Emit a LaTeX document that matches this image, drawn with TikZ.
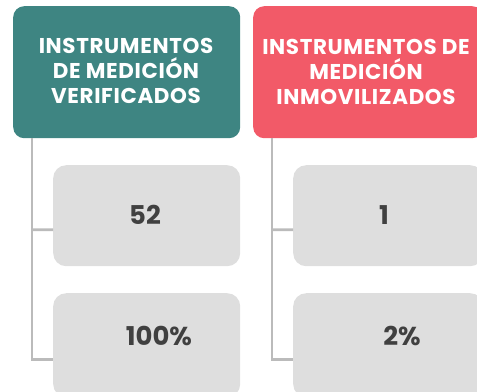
\documentclass[tikz,border=0pt]{standalone}
\usepackage{fontspec}
\setmainfont{Poppins}
\newfontfamily\headfont[LetterSpace=3]{Poppins}
\definecolor{teal1}{HTML}{3E8582}
\definecolor{red1}{HTML}{F25A68}
\definecolor{boxgrey}{HTML}{DEDEDE}
\definecolor{linegrey}{HTML}{BBBBBB}
\definecolor{txtdark}{HTML}{404040}
\tikzset{
  head/.style={fill=#1, draw=none, rounded corners=11bp, anchor=north west, inner sep=0pt},
  child/.style={fill=boxgrey, draw=none, rounded corners=13bp, anchor=north west, inner sep=0pt},
  htext/.style={text=white, font=\headfont\bfseries\fontsize{21.5}{25}\selectfont, align=center},
  ctext/.style={text=txtdark, font=\bfseries\fontsize{26}{30}\selectfont},
  conn/.style={draw=linegrey, line width=2.6bp}
}
\begin{document}
\begin{tikzpicture}[x=1bp,y=-1bp]
\useasboundingbox (0,0) rectangle (477,391);
% headers
\node[head=teal1, minimum width=227bp, minimum height=132bp] (h1) at (13,6) {};
\node[head=red1, minimum width=230bp, minimum height=132bp] (h2) at (253,6) {};
\node[htext] (h1t) at (126,71) {INSTRUMENTOS\\DE MEDICIÓN\\VERIFICADOS};
\node[htext] (h2t) at (366,72) {INSTRUMENTOS DE\\MEDICIÓN\\INMOVILIZADOS};
% children
\node[child, minimum width=187bp, minimum height=101bp] (c11) at (53,165) {};
\node[child, minimum width=187bp, minimum height=104bp] (c12) at (53,293) {};
\node[child, minimum width=190bp, minimum height=101bp] (c21) at (293,165) {};
\node[child, minimum width=190bp, minimum height=104bp] (c22) at (293,293) {};
\node[ctext] (c11t) at (145,215) {52};
\node[ctext] (c12t) at (159,336) {100\%};
\node[ctext] (c21t) at (384,215) {1};
\node[ctext] (c22t) at (402,336) {2\%};
% connectors
\coordinate (t1) at (32,138);
\coordinate (t2) at (272,138);
\draw[conn] (t1) |- ([yshift=-14bp]c12.west);
\draw[conn] (t1 |- c11.west) ++(0,14) -- ([yshift=-14bp]c11.west);
\draw[conn] (t2) |- ([yshift=-14bp]c22.west);
\draw[conn] (t2 |- c21.west) ++(0,14) -- ([yshift=-14bp]c21.west);
\end{tikzpicture}
\end{document}
